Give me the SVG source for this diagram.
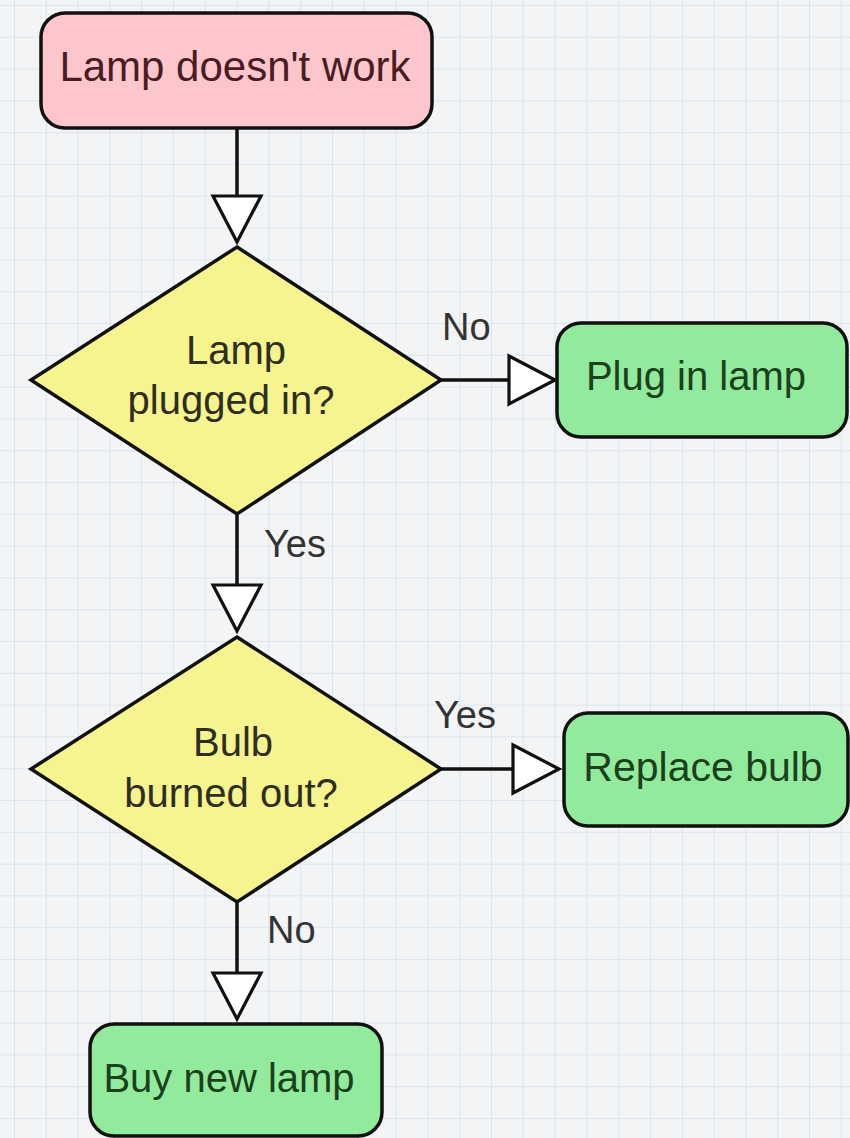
<svg xmlns="http://www.w3.org/2000/svg" width="850" height="1138" viewBox="0 0 850 1138">
  <defs>
    <pattern id="grid" x="14" y="5" width="31.8" height="31.8" patternUnits="userSpaceOnUse">
      <path d="M0,0 H31.8 M0,0 V31.8" fill="none" stroke="#d6e2ea" stroke-width="1.6"/>
    </pattern>
    <marker id="arrow" viewBox="-3 -3 52 54" markerUnits="userSpaceOnUse" markerWidth="52" markerHeight="54" refX="46" refY="24" orient="auto">
      <path d="M0,0 L46,24 L0,48 Z" fill="#ffffff" stroke="#111111" stroke-width="3.2" stroke-linejoin="miter"/>
    </marker>
    <style>
      .box { stroke: #111111; stroke-width: 3.5; }
      .start { fill: #fdc6cd; }
      .end { fill: #92eb9c; }
      .dec { fill: #f6f48e; stroke: #111111; stroke-width: 3.5; stroke-linejoin: miter; }
      .t { font-family: "Liberation Sans", Arial, sans-serif; font-size: 40px; text-anchor: middle; }
      .tstart { fill: #4a1c22; }
      .tend { fill: #1c401c; }
      .tdec { fill: #2e2e22; }
      .lbl { font-family: "Liberation Sans", Arial, sans-serif; font-size: 38px; fill: #333333; }
      .conn { fill: none; stroke: #111111; stroke-width: 3.5; marker-end: url(#arrow); }
    </style>
  </defs>
  <rect x="0" y="0" width="850" height="1138" fill="#f2f4f6"/>
  <rect x="0" y="0" width="850" height="1138" fill="url(#grid)"/>

  <g id="connectors">
    <line class="conn" x1="237" y1="128" x2="237" y2="242"/>
    <line class="conn" x1="441" y1="380" x2="555" y2="380"/>
    <line class="conn" x1="237" y1="514" x2="237" y2="631"/>
    <line class="conn" x1="441" y1="769" x2="559" y2="769"/>
    <line class="conn" x1="237" y1="902" x2="237" y2="1019"/>
    <text class="lbl" x="442" y="340">No</text>
    <text class="lbl" x="264" y="557">Yes</text>
    <text class="lbl" x="434" y="728">Yes</text>
    <text class="lbl" x="267" y="943">No</text>
  </g>

  <g id="start">
    <rect class="box start" x="41" y="13" width="391" height="115" rx="24" ry="24"/>
    <text class="t tstart" x="235" y="81" style="font-size:42px">Lamp doesn't work</text>
  </g>

  <g id="decision1">
    <polygon class="dec" points="237,247 441,380 237,514 31,380"/>
    <text class="t tdec" x="236" y="364">Lamp</text>
    <text class="t tdec" x="231" y="414">plugged in?</text>
  </g>

  <g id="plug">
    <rect class="box end" x="557" y="323" width="290" height="114" rx="24" ry="24"/>
    <text class="t tend" x="696" y="390">Plug in lamp</text>
  </g>

  <g id="decision2">
    <polygon class="dec" points="237,637 441,769 237,902 31,769"/>
    <text class="t tdec" x="233" y="756">Bulb</text>
    <text class="t tdec" x="231" y="807">burned out?</text>
  </g>

  <g id="replace">
    <rect class="box end" x="564" y="713" width="284" height="113" rx="24" ry="24"/>
    <text class="t tend" x="703" y="781" style="font-size:41px">Replace bulb</text>
  </g>

  <g id="buy">
    <rect class="box end" x="90" y="1024" width="292" height="112" rx="24" ry="24"/>
    <text class="t tend" x="229" y="1092">Buy new lamp</text>
  </g>
</svg>
